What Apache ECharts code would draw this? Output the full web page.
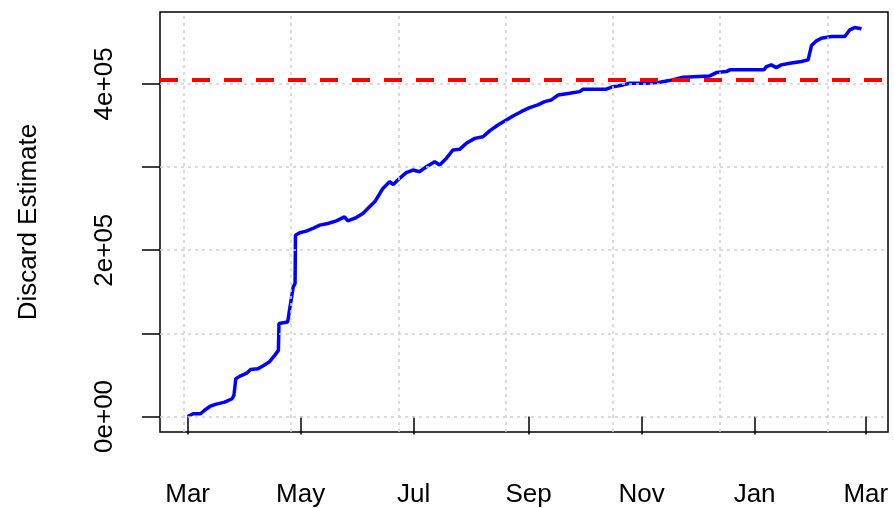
<!DOCTYPE html>
<html><head><meta charset="utf-8">
<script src="https://cdn.jsdelivr.net/npm/echarts@6/dist/echarts.min.js"></script>
<style>html,body{margin:0;padding:0;background:#fff}#c{width:894px;height:508px}</style>
</head><body><div id="c"></div>
<script>
// ---- data ----
const startDate = '2015-03-01';
const daysSinceStart = [0, 3, 7, 9, 12, 15, 20, 24, 25, 26, 28, 32, 34, 38, 41, 44, 47, 49, 49.3, 54, 55, 56, 57, 58, 58.2,
  60.5, 64, 67.6, 71.3, 75.7, 80.3, 84.7, 86.5, 91, 94.6, 98.2, 101, 105.4, 109, 111, 114.4, 118, 121.6, 125.2, 128.9,
  133.3, 136, 139.6, 143.2, 146.8, 150.4, 155, 159.4, 163, 167.5, 172, 175.6, 180, 184.6, 189, 192.7, 196.3, 200, 206.2,
  211.6, 213.4, 226, 229.6, 235, 238.6, 248, 254.8, 260, 267.4, 281.8, 285.4, 290.8, 292.6, 311, 312.4, 315, 317.7,
  320.4, 325, 331.3, 334.9, 335.8, 336.7, 339.4, 342, 347.5, 354.7, 357.4, 360, 363.7];
const discardValues = [0, 3200, 3200, 7200, 12000, 14500, 17200, 21300, 25300, 45400, 48200, 52200, 56600, 57400, 61400,
  65400, 73500, 79500, 111700, 113600, 128000, 141800, 155800, 159900, 218000,
  220900, 222900, 226100, 230100, 232100, 235300, 240100, 235300, 239300, 244200, 252200, 258200, 274300, 282300, 279000,
  286400, 293200, 296400, 294400, 300400, 306400, 302400, 310400, 320500, 321300, 328500, 334500, 336500, 343500, 350600,
  356600, 361400, 366600, 371400, 374700, 378700, 380700, 386700, 388800, 390700, 393600, 393600, 396700, 398800, 400800,
  400800, 402000, 404000, 408000, 409600, 413600, 414800, 416900, 416900, 420800, 422900, 419600, 422900, 424900, 426900,
  428900, 431000, 446100, 451800, 455000, 457000, 457000, 465100, 467800, 466300];
const referenceLevel = 405600;
const monthTickDates = ['2015-03-01', '2015-05-01', '2015-07-01', '2015-09-01', '2015-11-01', '2016-01-01', '2016-03-01'];
const monthTickLabels = ['Mar', 'May', 'Jul', 'Sep', 'Nov', 'Jan', 'Mar'];
const yTickValues = [0, 100000, 200000, 300000, 400000];
const yLabelValues = [0, 200000, 400000];
const yTickLabels = ['0e+00', '2e+05', '4e+05'];
const gridLineSeconds = [1425000000, 1430000000, 1435000000, 1440000000, 1445000000, 1450000000, 1455000000];
const xRangeDays = [-14.9, 378.0];
const yRange = [-18700, 486500];
const yTitle = 'Discard Estimate';

// ---- build ----
const DAY = 86400000;
const t0 = Date.parse(startDate + 'T00:00:00Z');
const lineData = daysSinceStart.map((d, i) => [t0 + d * DAY, discardValues[i]]);
const monthTickMs = monthTickDates.map(s => Date.parse(s + 'T00:00:00Z'));
const FONT = '"Liberation Sans", Arial, sans-serif';
const tickStyle = { color: '#000', width: 1.5 };

const chart = echarts.init(document.getElementById('c'), null, { renderer: 'canvas' });
chart.setOption({
  animation: false,
  backgroundColor: '#fff',
  grid: { left: 160, top: 12, right: 6, bottom: 76, show: true, borderColor: '#000', borderWidth: 1.5, backgroundColor: 'transparent' },
  xAxis: {
    type: 'value', min: t0 + xRangeDays[0] * DAY, max: t0 + xRangeDays[1] * DAY,
    axisLine: { show: false }, splitLine: { show: false },
    axisTick: { show: true, length: 18, customValues: monthTickMs, lineStyle: tickStyle },
    axisLabel: {
      customValues: monthTickMs, margin: 50, fontSize: 26, color: '#000', fontFamily: FONT,
      formatter: v => monthTickLabels[monthTickMs.indexOf(v)] || ''
    }
  },
  yAxis: {
    type: 'value', min: yRange[0], max: yRange[1],
    name: yTitle, nameLocation: 'middle', nameRotate: 90, nameGap: 118,
    nameTextStyle: { fontSize: 26, color: '#000', fontFamily: FONT },
    axisLine: { show: false }, splitLine: { show: false },
    axisTick: { show: true, length: 18, customValues: yTickValues, lineStyle: tickStyle },
    axisLabel: {
      customValues: yLabelValues, rotate: 90, margin: 42, fontSize: 26, color: '#000', fontFamily: FONT,
      formatter: v => yTickLabels[yLabelValues.indexOf(v)] || ''
    }
  },
  series: [
    {
      name: 'grid', type: 'line', data: [], z: 1, silent: true,
      markLine: {
        silent: true, symbol: 'none', label: { show: false }, animation: false,
        lineStyle: { color: '#cfcfcf', width: 1.5, type: [3, 4] },
        data: gridLineSeconds.map(s => ({ xAxis: s * 1000 })).concat(yTickValues.map(v => ({ yAxis: v })))
      }
    },
    {
      name: 'Discard', type: 'line', data: lineData, z: 3, showSymbol: false, symbol: 'none',
      lineStyle: { color: '#0000ff', width: 3.5 }, itemStyle: { color: '#0000ff' }
    },
    {
      name: 'ref', type: 'line', data: [], z: 4, silent: true,
      markLine: {
        silent: true, symbol: 'none', label: { show: false }, animation: false,
        lineStyle: { color: '#ff0000', width: 4, type: [18, 14] },
        data: [{ yAxis: referenceLevel }]
      }
    }
  ]
});
</script></body></html>
